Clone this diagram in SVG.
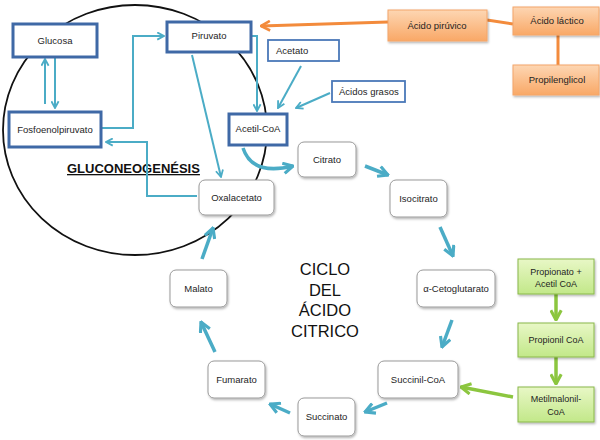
<svg xmlns="http://www.w3.org/2000/svg" width="600" height="440" viewBox="0 0 600 440">
<defs>
<style>
.t{font-family:"Liberation Sans",Arial,sans-serif;font-size:9.5px;fill:#1e1e1e;text-anchor:middle}
.ts{font-family:"Liberation Sans",Arial,sans-serif;font-size:9.5px;fill:#1e1e1e}
.tg{font-family:"Liberation Sans",Arial,sans-serif;font-size:9px;fill:#1e1e1e;text-anchor:middle}
.big{font-family:"Liberation Sans",Arial,sans-serif;font-size:16.5px;fill:#111;text-anchor:middle}
.bN{fill:#fff;stroke:#3f69a6;stroke-width:3}
.bT{fill:#fff;stroke:#4a78b8;stroke-width:1.8}
.cN{fill:#fff;stroke:#9a9a9a;stroke-width:1;filter:url(#sh)}
.oN{fill:url(#og);stroke:#f4a66a;stroke-width:1;filter:url(#sh)}
.gN{fill:url(#gg);stroke:#8ab84a;stroke-width:1;filter:url(#sh)}
.cT{fill:none;stroke:#4bacc6;stroke-width:2;marker-end:url(#aT)}
.cB{fill:none;stroke:#4bacc6;stroke-width:3.5;marker-end:url(#aB)}
.cG{fill:none;stroke:#8cc63f;stroke-width:3.5;marker-end:url(#aG)}
.cO{fill:none;stroke:#f38b3c;stroke-width:3}
</style>
<filter id="sh" x="-20%" y="-20%" width="150%" height="160%">
<feDropShadow dx="1" dy="1.5" stdDeviation="1" flood-color="#000" flood-opacity="0.3"/>
</filter>
<linearGradient id="og" x1="0" y1="0" x2="0" y2="1">
<stop offset="0" stop-color="#fdd6b3"/>
<stop offset="1" stop-color="#f9a866"/>
</linearGradient>
<linearGradient id="gg" x1="0" y1="0" x2="0" y2="1">
<stop offset="0" stop-color="#e8f7c6"/>
<stop offset="1" stop-color="#c2e889"/>
</linearGradient>
<marker id="aT" viewBox="0 0 10 10" refX="9" refY="5" markerWidth="9" markerHeight="9" markerUnits="userSpaceOnUse" orient="auto">
<path d="M1.5,1 L9,5 L1.5,9" fill="none" stroke="#4bacc6" stroke-width="2"/>
</marker>
<marker id="aB" viewBox="0 0 10 10" refX="9" refY="5" markerWidth="13" markerHeight="13" markerUnits="userSpaceOnUse" orient="auto">
<path d="M1.5,1 L9,5 L1.5,9" fill="none" stroke="#4bacc6" stroke-width="2.4"/>
</marker>
<marker id="aG" viewBox="0 0 10 10" refX="9" refY="5" markerWidth="13" markerHeight="13" markerUnits="userSpaceOnUse" orient="auto">
<path d="M1.5,1 L9,5 L1.5,9" fill="none" stroke="#8cc63f" stroke-width="2.4"/>
</marker>
<marker id="aO" viewBox="0 0 10 10" refX="9" refY="5" markerWidth="12" markerHeight="12" markerUnits="userSpaceOnUse" orient="auto">
<path d="M1.5,1 L9,5 L1.5,9" fill="none" stroke="#f38b3c" stroke-width="2.2"/>
</marker>
</defs>
<rect width="600" height="440" fill="#fff"/>
<ellipse id="circle" cx="135" cy="130" rx="132" ry="125" fill="none" stroke="#111" stroke-width="1.8"/>
<text x="67" y="173" font-family="'Liberation Sans',Arial,sans-serif" font-size="13" font-weight="bold" text-decoration="underline" fill="#111">GLUCONEOGENÉSIS</text>
<g id="connectors">
<path class="cT" d="M55,57 V108"/>
<path class="cT" d="M45,104 V59"/>
<path class="cT" d="M101,128 H133 V36 H164"/>
<path class="cT" d="M197,196 H147 V142 H106"/>
<path class="cT" d="M192,55 L221,177"/>
<path class="cT" d="M251,36 H257 V111"/>
<path class="cT" d="M301,66 L278,108"/>
<path class="cT" d="M330,93 L296,108"/>
<path class="cB" d="M243,148 Q252,176 293,166"/>
<path class="cB" d="M365,166 L388,175"/>
<path class="cB" d="M440,227 L453,256"/>
<path class="cB" d="M452,320 L442,347"/>
<path class="cB" d="M387,403 L365,412"/>
<path class="cB" d="M290,413 L270,404"/>
<path class="cB" d="M215,352 L201,322"/>
<path class="cB" d="M202,259 L213,228"/>
<path class="cG" d="M556,294 V320"/>
<path class="cG" d="M556,357 V384"/>
<path class="cG" d="M513,397 L461,387"/>
<path class="cO" style="marker-end:url(#aO)" d="M388,22 L261,26"/>
<path class="cO" d="M487,20 L513,24"/>
<path class="cO" d="M558,35 V65"/>
</g>
<g id="n-glucosa"><rect class="bN" x="13" y="24" width="84" height="33"/><text class="t" x="55" y="44">Glucosa</text></g>
<g id="n-fosfoenolpiruvato"><rect class="bN" x="9" y="112" width="92" height="35"/><text class="t" x="55" y="133">Fosfoenolpiruvato</text></g>
<g id="n-piruvato"><rect class="bN" x="167" y="22" width="84" height="30"/><text class="t" x="209" y="39">Piruvato</text></g>
<g id="n-acetilcoa"><rect class="bN" x="229" y="114" width="58" height="31"/><text class="t" x="258" y="132">Acetil-CoA</text></g>
<g id="n-acetato"><rect class="bT" x="268" y="40" width="71" height="21"/><text class="ts" x="276" y="54">Acetato</text></g>
<g id="n-acidosgrasos"><rect class="bT" x="332" y="81" width="73" height="21"/><text class="ts" x="339" y="95">Ácidos grasos</text></g>
<g id="n-acidopiruvico"><rect class="oN" x="388" y="10" width="99" height="31"/><text class="t" x="437" y="28.5">Ácido pirúvico</text></g>
<g id="n-acidolactico"><rect class="oN" x="513" y="7" width="86" height="28"/><text class="t" x="557" y="24">Ácido láctico</text></g>
<g id="n-propilenglicol"><rect class="oN" x="513" y="65" width="86" height="30"/><text class="t" x="557" y="83">Propilenglicol</text></g>
<g id="n-citrato"><rect class="cN" x="298" y="142" width="58" height="35" rx="6"/><text class="t" x="327" y="163">Citrato</text></g>
<g id="n-isocitrato"><rect class="cN" x="390" y="180" width="57" height="37" rx="6"/><text class="t" x="418.5" y="201.5">Isocitrato</text></g>
<g id="n-oxalacetato"><rect class="cN" x="199" y="180" width="75" height="35" rx="6"/><text class="t" x="236.5" y="201">Oxalacetato</text></g>
<g id="n-cetoglutarato"><rect class="cN" x="417" y="270" width="78" height="37" rx="6"/><text class="t" x="456" y="291.5">α-Cetoglutarato</text></g>
<g id="n-succinilcoa"><rect class="cN" x="378" y="361" width="80" height="37" rx="6"/><text class="t" x="418" y="382.5">Succinil-CoA</text></g>
<g id="n-succinato"><rect class="cN" x="298" y="398" width="57" height="38" rx="6"/><text class="t" x="326.5" y="420">Succinato</text></g>
<g id="n-fumarato"><rect class="cN" x="208" y="361" width="57" height="37" rx="6"/><text class="t" x="236.5" y="382.5">Fumarato</text></g>
<g id="n-malato"><rect class="cN" x="170" y="270" width="57" height="37" rx="6"/><text class="t" x="198.5" y="291.5">Malato</text></g>
<g id="n-propionato"><rect class="gN" x="518" y="259" width="76" height="35"/><text class="tg" x="556" y="275">Propionato  +</text><text class="tg" x="556" y="286.5">Acetil CoA</text></g>
<g id="n-propionilcoa"><rect class="gN" x="518" y="323" width="76" height="34"/><text class="tg" x="556" y="343">Propionil CoA</text></g>
<g id="n-metilmalonil"><rect class="gN" x="518" y="387" width="76" height="35"/><text class="tg" x="556" y="402">Metilmalonil-</text><text class="tg" x="556" y="415">CoA</text></g>
<g id="title-ciclo">
<text class="big" x="325" y="275">CICLO</text>
<text class="big" x="325" y="295.5">DEL</text>
<text class="big" x="325" y="316">ÁCIDO</text>
<text class="big" x="325" y="336.5">CITRICO</text>
</g>
</svg>
